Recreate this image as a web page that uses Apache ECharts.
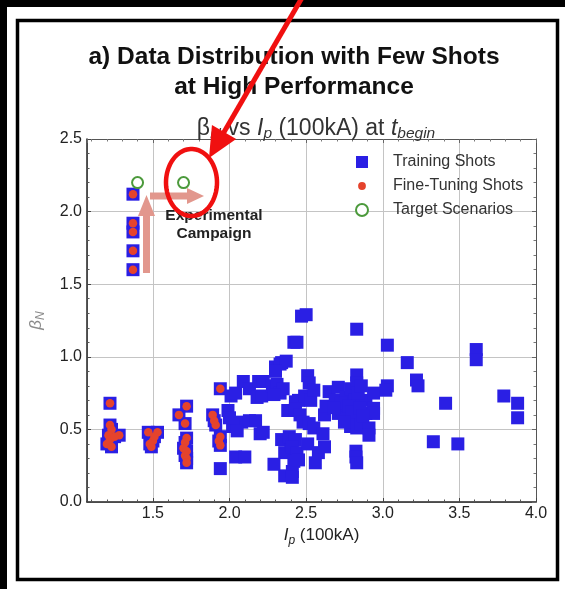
<!DOCTYPE html>
<html><head><meta charset="utf-8">
<script src="https://cdn.jsdelivr.net/npm/echarts@6/dist/echarts.min.js"></script>
<style>html,body{margin:0;padding:0;background:#fff}#c{width:565px;height:589px}</style>
</head><body><div id="c"></div>
<script>
// ---------- data ----------
const fineTuningShots = [
  [1.37,2.12],[1.37,1.92],[1.37,1.86],[1.37,1.73],[1.37,1.60],
  [1.22,0.68],[1.22,0.53],[1.23,0.50],[1.21,0.46],[1.22,0.43],[1.20,0.40],[1.23,0.38],[1.28,0.46],[1.25,0.45],
  [1.47,0.48],[1.53,0.48],[1.50,0.42],[1.49,0.38],[1.48,0.40],[1.51,0.45],
  [1.67,0.60],[1.72,0.66],[1.71,0.54],[1.72,0.44],[1.71,0.41],[1.70,0.37],[1.72,0.35],[1.71,0.32],[1.72,0.30],[1.72,0.27],
  [1.94,0.78],[1.89,0.60],[1.90,0.56],[1.91,0.53],[1.94,0.45],[1.93,0.42],[1.94,0.39]
];
const trainingOnlyShots = [
  [1.94,0.23],[1.99,0.63],[2.01,0.73],[2.04,0.75],[2.09,0.83],[2.13,0.78],[2.19,0.83],[2.18,0.72],[2.08,0.55],[2.13,0.56],
  [2.17,0.56],[2.20,0.47],[2.02,0.52],[2.04,0.31],[2.10,0.31],[2.00,0.58],[2.05,0.49],[2.22,0.83],[2.21,0.73],[2.22,0.48],
  [2.30,0.93],[2.34,0.96],[2.33,0.95],[2.37,0.97],[2.30,0.90],[2.28,0.80],[2.31,0.81],[2.33,0.75],[2.35,0.78],[2.29,0.74],
  [2.42,1.10],[2.44,1.10],[2.47,1.28],[2.50,1.29],
  [2.34,0.43],[2.36,0.34],[2.36,0.18],[2.29,0.26],[2.40,0.39],[2.38,0.63],[2.43,0.69],[2.39,0.45],[2.43,0.43],
  [2.41,0.38],[2.44,0.34],[2.42,0.28],[2.41,0.21],[2.41,0.17],[2.45,0.29],
  [2.45,0.70],[2.43,0.64],[2.46,0.60],[2.48,0.55],[2.52,0.54],[2.55,0.51],[2.49,0.73],[2.53,0.70],[2.51,0.87],[2.52,0.82],
  [2.55,0.77],[2.51,0.40],[2.56,0.27],[2.58,0.34],[2.62,0.38],[2.61,0.47],
  [2.62,0.60],[2.63,0.66],[2.65,0.76],[2.69,0.70],[2.71,0.79],[2.71,0.61],[2.74,0.63],[2.76,0.72],[2.77,0.58],[2.79,0.78],
  [2.79,0.52],[2.81,0.56],[2.82,0.70],[2.83,0.51],[2.83,0.875],[2.83,0.82],[2.86,0.54],[2.89,0.61],[2.89,0.70],[2.825,0.35],
  [2.825,0.31],[2.83,0.27],[2.91,0.51],[2.91,0.46],[2.94,0.645],[2.94,0.61],[2.94,0.75],[2.83,1.19],
  [2.73,0.68],[2.78,0.66],[2.80,0.62],[2.85,0.65],[2.87,0.59],[2.75,0.55],[2.68,0.65],[2.84,0.75],[2.86,0.80],
  [3.03,1.08],[3.16,0.96],[3.22,0.84],[3.23,0.80],[3.03,0.80],[3.02,0.77],[3.41,0.68],[3.61,1.05],[3.61,0.98],
  [3.79,0.73],[3.88,0.68],[3.88,0.58],[3.33,0.415],[3.49,0.40]
];
const trainingShots = fineTuningShots.concat(trainingOnlyShots);
const targetScenarios = [[1.40,2.20],[1.70,2.20]];
const seriesNames = ['Training Shots','Fine-Tuning Shots','Target Scenarios'];
const xRange = [1.07, 4.0];
const yRange = [0, 2.5];
const yStep = 0.5;

// ---------- styling ----------
const FONT = '"Liberation Sans", Arial, Helvetica, sans-serif';
const BLUE = '#2a1fe4', RED = '#e5432c', GREEN = '#4c9a3c', PINK = '#e2978d';
const fmt = v => (Math.abs(v * 2 - Math.round(v * 2)) < 1e-6 ? v.toFixed(1) : '');

function ellipsePts(cx, cy, rx, ry, n) {
  const p = [];
  for (let i = 0; i < n; i++) { const a = 2 * Math.PI * i / n; p.push([cx + rx * Math.cos(a), cy + ry * Math.sin(a)]); }
  return p;
}
// red annotation arrow
const tip = [209, 158], tail = [303, -4];
const dl = Math.hypot(tip[0] - tail[0], tip[1] - tail[1]);
const dir = [(tip[0] - tail[0]) / dl, (tip[1] - tail[1]) / dl];
const perp = [dir[1], -dir[0]];
const hb = [tip[0] - 30 * dir[0], tip[1] - 30 * dir[1]];

const chart = echarts.init(document.getElementById('c'), null, {renderer: 'canvas'});
chart.setOption({
  animation: false,
  backgroundColor: '#fff',
  title: [
    { text: 'a) Data Distribution with Few Shots\nat High Performance', left: 289, top: 37, textAlign: 'center',
      textStyle: { fontFamily: FONT, fontSize: 24.5, fontWeight: 'bold', color: '#111', lineHeight: 30 } },
    { text: '{n|β}{s|N}{n| vs }{i|I}{s|p}{n| (100kA) at }{i|t}{s|begin}', left: 311, top: 111, textAlign: 'center',
      textStyle: { fontWeight: 'normal', rich: {
        n: { fontFamily: FONT, fontSize: 23, fontWeight: 'normal', color: '#333', lineHeight: 26 },
        i: { fontFamily: FONT, fontSize: 23, fontWeight: 'normal', color: '#333', fontStyle: 'italic', lineHeight: 26 },
        s: { fontFamily: FONT, fontSize: 15.5, fontWeight: 'normal', color: '#333', fontStyle: 'italic', lineHeight: 16, verticalAlign: 'bottom' }
      } } }
  ],
  legend: {
    orient: 'vertical', left: 355, top: 154, itemWidth: 12, itemHeight: 12, itemGap: 8, padding: 0,
    selectedMode: false,
    textStyle: { fontFamily: FONT, fontSize: 16, color: '#333', padding: [0, 0, 0, 20] },
    data: [
      { name: seriesNames[0], icon: 'rect' },
      { name: seriesNames[1], icon: 'path://M0,0M12,12M6,2.1A3.9,3.9,0,1,1,6,9.9A3.9,3.9,0,1,1,6,2.1Z' },
      { name: seriesNames[2], icon: 'emptyCircle' }
    ]
  },
  grid: { left: 87, right: 29, top: 139, bottom: 87, containLabel: false, outerBoundsMode: 'none' },
  xAxis: [
    { type: 'value', min: xRange[0], max: xRange[1], position: 'bottom',
      axisLine: { show: true, onZero: false, lineStyle: { color: '#222', width: 1.5 } },
      axisTick: { show: true, inside: true, length: 4, lineStyle: { color: '#444' } },
      minorTick: { show: true, splitNumber: 5, length: 2.5, lineStyle: { color: '#555' } },
      splitLine: { show: true, lineStyle: { color: '#c4c4c4', width: 1 } },
      axisLabel: { formatter: fmt, fontFamily: FONT, fontSize: 16, color: '#222', margin: 4 },
      name: '{i|I}{s|p}{n| (100kA)}', nameLocation: 'middle', nameGap: 22,
      nameTextStyle: { padding: [0, 0, 0, 20], rich: {
        n: { fontFamily: FONT, fontSize: 17, color: '#222', lineHeight: 22 },
        i: { fontFamily: FONT, fontSize: 17, color: '#222', fontStyle: 'italic', lineHeight: 22 },
        s: { fontFamily: FONT, fontSize: 12, color: '#222', fontStyle: 'italic', lineHeight: 13, verticalAlign: 'bottom' }
      } } },
    { type: 'value', min: xRange[0], max: xRange[1], position: 'top',
      axisLine: { show: true, onZero: false, lineStyle: { color: '#555', width: 1 } },
      axisTick: { show: true, inside: true, length: 4, lineStyle: { color: '#666' } },
      minorTick: { show: true, splitNumber: 5, length: 2.5, lineStyle: { color: '#777' } },
      splitLine: { show: false }, axisLabel: { show: false } }
  ],
  yAxis: [
    { type: 'value', min: yRange[0], max: yRange[1], interval: yStep, position: 'left',
      axisLine: { show: true, onZero: false, lineStyle: { color: '#222', width: 1.5 } },
      axisTick: { show: true, inside: true, length: 4, lineStyle: { color: '#444' } },
      minorTick: { show: true, splitNumber: 5, length: 2.5, lineStyle: { color: '#555' } },
      splitLine: { show: true, lineStyle: { color: '#c4c4c4', width: 1 } },
      axisLabel: { formatter: v => v.toFixed(1), fontFamily: FONT, fontSize: 16, color: '#222', margin: 5 },
      name: '{i|β}{s|N}', nameLocation: 'middle', nameGap: 40, nameRotate: 90,
      nameTextStyle: { rich: {
        i: { fontFamily: FONT, fontSize: 17, color: '#8a8a8a', fontStyle: 'italic', lineHeight: 22 },
        s: { fontFamily: FONT, fontSize: 12, color: '#8a8a8a', fontStyle: 'italic', lineHeight: 13, verticalAlign: 'bottom' }
      } } },
    { type: 'value', min: yRange[0], max: yRange[1], interval: yStep, position: 'right',
      axisLine: { show: true, onZero: false, lineStyle: { color: '#555', width: 1 } },
      axisTick: { show: true, inside: true, length: 4, lineStyle: { color: '#666' } },
      minorTick: { show: true, splitNumber: 5, length: 2.5, lineStyle: { color: '#777' } },
      splitLine: { show: false }, axisLabel: { show: false } }
  ],
  series: [
    { name: seriesNames[0], type: 'scatter', symbol: 'rect', symbolSize: 13, data: trainingShots,
      itemStyle: { color: BLUE, opacity: 1 }, emphasis: { disabled: true } },
    { name: seriesNames[1], type: 'scatter', symbol: 'circle', symbolSize: 8.5, data: fineTuningShots,
      itemStyle: { color: RED, opacity: 1 }, emphasis: { disabled: true } },
    { name: seriesNames[2], type: 'scatter', symbol: 'emptyCircle', symbolSize: 11, data: targetScenarios,
      itemStyle: { color: GREEN, borderWidth: 1.3, opacity: 1 }, emphasis: { disabled: true } }
  ],
  graphic: [
    // page frame
    { type: 'rect', z: 100, shape: { x: 0, y: 0, width: 565, height: 7 }, style: { fill: '#000' } },
    { type: 'rect', z: 100, shape: { x: 0, y: 0, width: 7, height: 589 }, style: { fill: '#000' } },
    { type: 'rect', z: 100, shape: { x: 17.5, y: 20.5, width: 540, height: 559 }, style: { fill: null, stroke: '#000', lineWidth: 3.5 } },
    // pink campaign arrows
    { type: 'polygon', z: 50, shape: { points: [[143,273],[150,273],[150,216],[155,216],[146.5,195],[138,216],[143,216]] }, style: { fill: PINK } },
    { type: 'polygon', z: 50, shape: { points: [[150,192.5],[187,192.5],[187,188],[204,196],[187,204],[187,199.5],[150,199.5]] }, style: { fill: PINK } },
    { type: 'text', z: 50, style: { text: 'Experimental\nCampaign', x: 214, y: 207, align: 'center', fill: '#222',
      font: 'bold 15.5px ' + FONT, lineHeight: 18 } },
    // red highlight
    { type: 'polygon', z: 101, shape: { points: ellipsePts(191.5, 182.5, 25.5, 33.5, 90) }, style: { fill: null, stroke: '#f01010', lineWidth: 4.5 } },
    { type: 'line', z: 101, shape: { x1: tail[0], y1: tail[1], x2: hb[0] + 2 * dir[0], y2: hb[1] + 2 * dir[1] }, style: { stroke: '#f01010', lineWidth: 5 } },
    { type: 'polygon', z: 101, shape: { points: [tip, [hb[0] + 14 * perp[0], hb[1] + 14 * perp[1]], [hb[0] - 14 * perp[0], hb[1] - 14 * perp[1]]] }, style: { fill: '#f01010' } }
  ]
});
</script>
</body></html>
